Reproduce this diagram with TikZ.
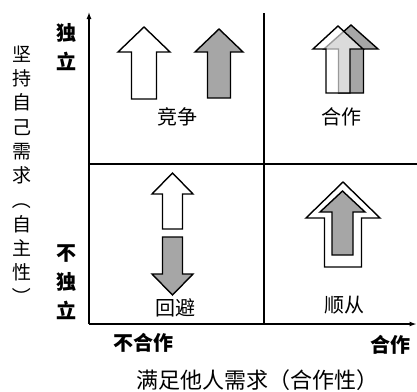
\documentclass[tikz,border=0pt]{standalone}
\usepackage{fontspec}
\newfontfamily\cjk{Noto Sans CJK SC}
\usetikzlibrary{arrows.meta}
\tikzset{
  axisline/.style={line width=1.3pt,-{Latex[length=7pt,width=5pt]}},
  gridline/.style={line width=1.3pt},
  whitearrow/.style={draw=black,line width=1.4pt,fill=white,line join=miter},
  grayarrow/.style={draw=black,line width=1.4pt,fill=black!35,line join=miter},
  ghostarrow/.style={draw=black,line width=1.4pt,fill=white,fill opacity=0.6,line join=miter},
  boldlabel/.style={font=\cjk\bfseries\fontsize{20}{29}\selectfont,align=center,inner sep=0pt},
  sidelabel/.style={font=\cjk\fontsize{19}{24.3}\selectfont,align=center,inner sep=0pt},
  quadlabel/.style={font=\cjk\fontsize{20}{24}\selectfont,inner sep=0pt},
  bottomlabel/.style={font=\cjk\fontsize{22}{26}\selectfont,inner sep=0pt}
}
% style, cx, tip y, head base y, tail y, head half width, shaft half width
\newcommand\myblockarrow[7]{%
  \path[#1] (#2,#3) -- ({#2+#6},#4) -- ({#2+#7},#4) -- ({#2+#7},#5)
    -- ({#2-#7},#5) -- ({#2-#7},#4) -- ({#2-#6},#4) -- cycle;}
\newcommand\myvparen[1]{\rotatebox[origin=c]{-90}{#1}}
\begin{document}
\begin{tikzpicture}[x=1pt,y=-1pt]
\useasboundingbox (0,0) rectangle (417,391);
% axes and grid
\coordinate (O) at (89,324);
\coordinate (Ytop) at (89,12);
\coordinate (Xend) at (416.5,324);
\coordinate (Mtop) at (264,13);
\coordinate (Mbot) at (264,324);
\coordinate (Hl) at (89,164);
\coordinate (Hr) at (417,164);
\draw[gridline] (Mtop) -- (Mbot);
\draw[gridline] (Hl) -- (Hr);
\draw[axisline] (O) -- (Ytop);
\draw[axisline] (O) -- (Xend);
% competition
\myblockarrow{whitearrow}{144}{27}{52}{99}{26}{12.5}
\myblockarrow{grayarrow}{219}{29}{52}{98}{24}{11.5}
% cooperation
\myblockarrow{grayarrow}{351}{25}{49}{93}{27}{12.5}
\myblockarrow{ghostarrow}{338}{26}{49}{93}{25}{12}
% avoidance
\myblockarrow{whitearrow}{172.5}{173}{194}{229}{20.5}{10}
\myblockarrow{grayarrow}{172.5}{295}{274}{237}{20.5}{10}
% accommodation
\myblockarrow{whitearrow}{343}{182}{218}{267}{37}{18.5}
\myblockarrow{grayarrow}{342.5}{191}{212}{255}{22.5}{10.5}
% labels
\node[quadlabel] (jz) at (177,117) {竞争};
\node[quadlabel] (hz) at (341,117) {合作};
\node[quadlabel] (hb) at (175,308) {回避};
\node[quadlabel] (sc) at (344,305) {顺从};
\node[boldlabel] (dl) at (66,47) {独\\立};
\node[boldlabel] (bdl) at (66,282) {不\\独\\立};
\node[boldlabel] (bhz) at (143,343) {不合作};
\node[boldlabel] (hzx) at (390,345) {合作};
\node[sidelabel] (jc) at (22,176) {坚\\持\\自\\己\\需\\求\\\myvparen{（}\\自\\主\\性\\\myvparen{）}};
\node[bottomlabel] (mz) at (257,380) {满足他人需求（合作性）};
\end{tikzpicture}
\end{document}
